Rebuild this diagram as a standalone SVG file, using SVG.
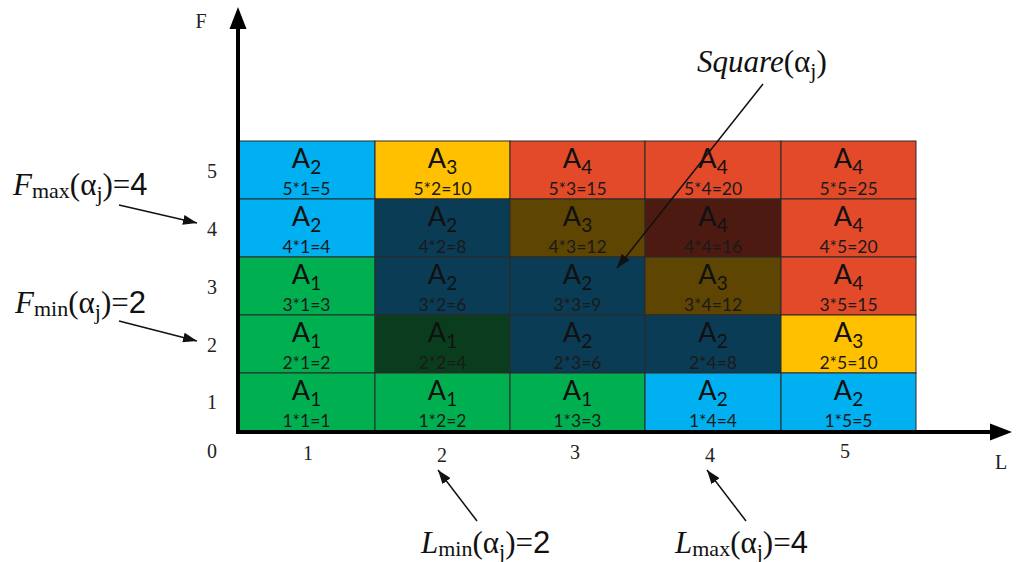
<svg xmlns="http://www.w3.org/2000/svg" width="1016" height="562" viewBox="0 0 1016 562">
<defs>
<style>
.cell{stroke:#2a2a2a;stroke-width:1}
.a{font-family:Lato,"Open Sans","Liberation Sans",sans-serif;font-size:27px;fill:#111;text-anchor:middle}
.sub{font-size:19px}
.f{font-family:Lato,"Open Sans","Liberation Sans",sans-serif;font-size:17.5px;fill:#1a1a1a;text-anchor:middle}
.tick{font-family:"Liberation Serif","Times New Roman",serif;font-size:20px;fill:#222;text-anchor:middle}
.lab{font-family:"Liberation Serif","Times New Roman",serif;font-size:31px;fill:#111}
.it{font-style:italic}
.sm{font-size:22px}
.sans{font-family:"Liberation Sans",Arial,sans-serif}
.conn{stroke:#111;stroke-width:1.5;fill:none}
.axis{stroke:#000;stroke-width:4;fill:none}
.c-blue{fill:#00B0F0}.c-yel{fill:#FFC000}.c-red{fill:#E24A2A}.c-teal{fill:#0B3C56}
.c-olive{fill:#5E4502}.c-brown{fill:#4C1A10}.c-dgreen{fill:#0A3D1D}.c-green{fill:#00B050}
</style>
<marker id="ah2" viewBox="0 0 10 10" refX="10" refY="5" markerWidth="14" markerHeight="10" markerUnits="userSpaceOnUse" orient="auto" preserveAspectRatio="none">
<path d="M0,0 L10,5 L0,10 z" fill="#111"/>
</marker>
</defs>
<rect width="1016" height="562" fill="#fff"/>

<!-- Row 5 -->
<g id="cell-5-1"><rect class="cell c-blue" x="238" y="141" width="137" height="58"/><text class="a" x="306.5" y="168">A<tspan class="sub" dy="6">2</tspan></text><text class="f" x="306.5" y="195">5*1=5</text></g>
<g id="cell-5-2"><rect class="cell c-yel" x="375" y="141" width="135" height="58"/><text class="a" x="442.5" y="168">A<tspan class="sub" dy="6">3</tspan></text><text class="f" x="442.5" y="195">5*2=10</text></g>
<g id="cell-5-3"><rect class="cell c-red" x="510" y="141" width="135" height="58"/><text class="a" x="577.5" y="168">A<tspan class="sub" dy="6">4</tspan></text><text class="f" x="577.5" y="195">5*3=15</text></g>
<g id="cell-5-4"><rect class="cell c-red" x="645" y="141" width="136" height="58"/><text class="a" x="713" y="168">A<tspan class="sub" dy="6">4</tspan></text><text class="f" x="713" y="195">5*4=20</text></g>
<g id="cell-5-5"><rect class="cell c-red" x="781" y="141" width="135" height="58"/><text class="a" x="848.5" y="168">A<tspan class="sub" dy="6">4</tspan></text><text class="f" x="848.5" y="195">5*5=25</text></g>

<!-- Row 4 -->
<g id="cell-4-1"><rect class="cell c-blue" x="238" y="199" width="137" height="58"/><text class="a" x="306.5" y="226">A<tspan class="sub" dy="6">2</tspan></text><text class="f" x="306.5" y="253">4*1=4</text></g>
<g id="cell-4-2"><rect class="cell c-teal" x="375" y="199" width="135" height="58"/><text class="a" x="442.5" y="226">A<tspan class="sub" dy="6">2</tspan></text><text class="f" x="442.5" y="253">4*2=8</text></g>
<g id="cell-4-3"><rect class="cell c-olive" x="510" y="199" width="135" height="58"/><text class="a" x="577.5" y="226">A<tspan class="sub" dy="6">3</tspan></text><text class="f" x="577.5" y="253">4*3=12</text></g>
<g id="cell-4-4"><rect class="cell c-brown" x="645" y="199" width="136" height="58"/><text class="a" x="713" y="226">A<tspan class="sub" dy="6">4</tspan></text><text class="f" x="713" y="253">4*4=16</text></g>
<g id="cell-4-5"><rect class="cell c-red" x="781" y="199" width="135" height="58"/><text class="a" x="848.5" y="226">A<tspan class="sub" dy="6">4</tspan></text><text class="f" x="848.5" y="253">4*5=20</text></g>

<!-- Row 3 -->
<g id="cell-3-1"><rect class="cell c-green" x="238" y="257" width="137" height="58"/><text class="a" x="306.5" y="284">A<tspan class="sub" dy="6">1</tspan></text><text class="f" x="306.5" y="311">3*1=3</text></g>
<g id="cell-3-2"><rect class="cell c-teal" x="375" y="257" width="135" height="58"/><text class="a" x="442.5" y="284">A<tspan class="sub" dy="6">2</tspan></text><text class="f" x="442.5" y="311">3*2=6</text></g>
<g id="cell-3-3"><rect class="cell c-teal" x="510" y="257" width="135" height="58"/><text class="a" x="577.5" y="284">A<tspan class="sub" dy="6">2</tspan></text><text class="f" x="577.5" y="311">3*3=9</text></g>
<g id="cell-3-4"><rect class="cell c-olive" x="645" y="257" width="136" height="58"/><text class="a" x="713" y="284">A<tspan class="sub" dy="6">3</tspan></text><text class="f" x="713" y="311">3*4=12</text></g>
<g id="cell-3-5"><rect class="cell c-red" x="781" y="257" width="135" height="58"/><text class="a" x="848.5" y="284">A<tspan class="sub" dy="6">4</tspan></text><text class="f" x="848.5" y="311">3*5=15</text></g>

<!-- Row 2 -->
<g id="cell-2-1"><rect class="cell c-green" x="238" y="315" width="137" height="58"/><text class="a" x="306.5" y="342">A<tspan class="sub" dy="6">1</tspan></text><text class="f" x="306.5" y="369">2*1=2</text></g>
<g id="cell-2-2"><rect class="cell c-dgreen" x="375" y="315" width="135" height="58"/><text class="a" x="442.5" y="342">A<tspan class="sub" dy="6">1</tspan></text><text class="f" x="442.5" y="369">2*2=4</text></g>
<g id="cell-2-3"><rect class="cell c-teal" x="510" y="315" width="135" height="58"/><text class="a" x="577.5" y="342">A<tspan class="sub" dy="6">2</tspan></text><text class="f" x="577.5" y="369">2*3=6</text></g>
<g id="cell-2-4"><rect class="cell c-teal" x="645" y="315" width="136" height="58"/><text class="a" x="713" y="342">A<tspan class="sub" dy="6">2</tspan></text><text class="f" x="713" y="369">2*4=8</text></g>
<g id="cell-2-5"><rect class="cell c-yel" x="781" y="315" width="135" height="58"/><text class="a" x="848.5" y="342">A<tspan class="sub" dy="6">3</tspan></text><text class="f" x="848.5" y="369">2*5=10</text></g>

<!-- Row 1 -->
<g id="cell-1-1"><rect class="cell c-green" x="238" y="373" width="137" height="58"/><text class="a" x="306.5" y="400">A<tspan class="sub" dy="6">1</tspan></text><text class="f" x="306.5" y="427">1*1=1</text></g>
<g id="cell-1-2"><rect class="cell c-green" x="375" y="373" width="135" height="58"/><text class="a" x="442.5" y="400">A<tspan class="sub" dy="6">1</tspan></text><text class="f" x="442.5" y="427">1*2=2</text></g>
<g id="cell-1-3"><rect class="cell c-green" x="510" y="373" width="135" height="58"/><text class="a" x="577.5" y="400">A<tspan class="sub" dy="6">1</tspan></text><text class="f" x="577.5" y="427">1*3=3</text></g>
<g id="cell-1-4"><rect class="cell c-blue" x="645" y="373" width="136" height="58"/><text class="a" x="713" y="400">A<tspan class="sub" dy="6">2</tspan></text><text class="f" x="713" y="427">1*4=4</text></g>
<g id="cell-1-5"><rect class="cell c-blue" x="781" y="373" width="135" height="58"/><text class="a" x="848.5" y="400">A<tspan class="sub" dy="6">2</tspan></text><text class="f" x="848.5" y="427">1*5=5</text></g>

<!-- Axes -->
<g id="axes">
<line class="axis" x1="238" y1="434" x2="238" y2="26"/>
<path d="M238,7 L229.5,29 L246.5,29 z" fill="#000"/>
<line class="axis" x1="236" y1="432" x2="992" y2="432"/>
<path d="M1012,432 L990,423.5 L990,440.5 z" fill="#000"/>
<text class="tick" x="201" y="28">F</text>
<text class="tick" x="1001" y="469">L</text>
<text class="tick" x="212" y="458">0</text>
<text class="tick" x="212" y="178">5</text>
<text class="tick" x="212" y="236">4</text>
<text class="tick" x="212" y="294">3</text>
<text class="tick" x="212" y="352">2</text>
<text class="tick" x="212" y="409">1</text>
<text class="tick" x="308" y="460">1</text>
<text class="tick" x="442" y="462">2</text>
<text class="tick" x="575" y="459">3</text>
<text class="tick" x="710" y="462">4</text>
<text class="tick" x="845" y="458">5</text>
</g>

<!-- Labels -->
<g id="label-square"><text class="lab" x="697" y="72"><tspan class="it">Square</tspan>(α<tspan class="sm" dy="6">j</tspan><tspan dy="-6">)</tspan></text></g>
<g id="label-fmax"><text class="lab" x="13" y="195"><tspan class="it">F</tspan><tspan class="sm" dy="3">max</tspan><tspan dy="-3">(α</tspan><tspan class="sm" dy="6">j</tspan><tspan dy="-6">)=</tspan><tspan class="sans">4</tspan></text></g>
<g id="label-fmin"><text class="lab" x="15" y="313"><tspan class="it">F</tspan><tspan class="sm" dy="3">min</tspan><tspan dy="-3">(α</tspan><tspan class="sm" dy="6">j</tspan><tspan dy="-6">)=</tspan><tspan class="sans">2</tspan></text></g>
<g id="label-lmin"><text class="lab" x="421" y="553"><tspan class="it">L</tspan><tspan class="sm" dy="3">min</tspan><tspan dy="-3">(α</tspan><tspan class="sm" dy="6">j</tspan><tspan dy="-6">)=</tspan><tspan class="sans">2</tspan></text></g>
<g id="label-lmax"><text class="lab" x="675" y="553"><tspan class="it">L</tspan><tspan class="sm" dy="3">max</tspan><tspan dy="-3">(α</tspan><tspan class="sm" dy="6">j</tspan><tspan dy="-6">)=</tspan><tspan class="sans">4</tspan></text></g>

<!-- Connectors -->
<g id="connectors">
<line class="conn" x1="763" y1="84" x2="617" y2="268" marker-end="url(#ah2)"/>
<line class="conn" x1="119" y1="205" x2="197" y2="223" marker-end="url(#ah2)"/>
<line class="conn" x1="119" y1="321" x2="197" y2="341" marker-end="url(#ah2)"/>
<line class="conn" x1="477" y1="521" x2="438" y2="470" marker-end="url(#ah2)"/>
<line class="conn" x1="746" y1="521" x2="707" y2="470" marker-end="url(#ah2)"/>
</g>
</svg>
